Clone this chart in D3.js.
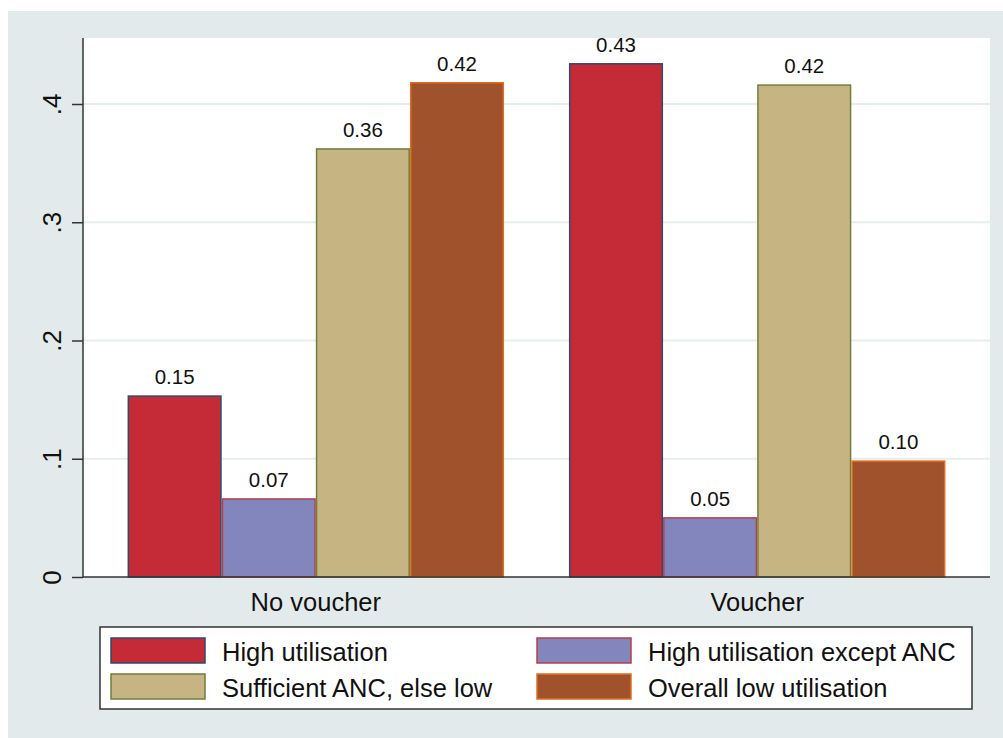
<!DOCTYPE html>
<html>
<head>
<meta charset="utf-8">
<script src="https://cdn.jsdelivr.net/npm/d3@7"></script>
<style>
html,body{margin:0;padding:0;background:#fff;}
svg text{font-family:"Liberation Sans",Arial,sans-serif;fill:#111;}
</style>
</head>
<body>
<svg id="chart" width="1003" height="738"></svg>
<script>
const categories = ["No voucher", "Voucher"];
const seriesNames = ["High utilisation", "High utilisation except ANC", "Sufficient ANC, else low", "Overall low utilisation"];
const noVoucher = [0.153, 0.066, 0.362, 0.418];
const voucher = [0.434, 0.050, 0.416, 0.098];
const yTicks = [0, 0.1, 0.2, 0.3, 0.4];
const yTickLabels = ["0", ".1", ".2", ".3", ".4"];
const fills = ["#c42b37", "#8286bd", "#c6b582", "#a0522d"];
const strokes = ["#2f4a6e", "#b3404a", "#6f7f3a", "#e36d1e"];

const values = [noVoucher, voucher];
const svg = d3.select("#chart");

// outer background
svg.append("rect").attr("x", 8).attr("y", 11).attr("width", 995).attr("height", 727).attr("fill", "#e3eaeb");

const plot = {left: 83, right: 990, top: 38, bottom: 577};
svg.append("rect").attr("x", plot.left).attr("y", plot.top)
  .attr("width", plot.right - plot.left).attr("height", plot.bottom - plot.top).attr("fill", "#fff");

const y = d3.scaleLinear().domain([0, 0.4]).range([plot.bottom, 104]);
const x0 = d3.scaleBand().domain(categories).range([plot.left, plot.right]).paddingInner(0.147).paddingOuter(0.101);
const x1 = d3.scaleBand().domain(seriesNames).range([0, x0.bandwidth()]).padding(0);

// gridlines
svg.append("g").selectAll("line").data(yTicks.filter(d => d > 0)).join("line")
  .attr("x1", plot.left).attr("x2", plot.right)
  .attr("y1", d => y(d)).attr("y2", d => y(d))
  .attr("stroke", "#e6eded").attr("stroke-width", 2);

// y axis
const yAxis = d3.axisLeft(y).tickValues(yTicks).tickSize(11).tickFormat((d, i) => yTickLabels[i]);
const ga = svg.append("g").attr("transform", `translate(${plot.left},0)`).call(yAxis);
ga.select(".domain").attr("d", `M0,${plot.top}V${plot.bottom}`).attr("stroke", "#333").attr("stroke-width", 1.5);
ga.selectAll(".tick line").attr("stroke", "#333").attr("stroke-width", 1.5);
ga.selectAll(".tick text")
  .attr("x", null).attr("dy", null)
  .attr("transform", "translate(-22,0) rotate(-90)")
  .attr("text-anchor", "middle")
  .attr("font-size", 26);

// bars
const groups = svg.append("g").selectAll("g").data(categories).join("g")
  .attr("transform", d => `translate(${x0(d)},0)`);

groups.each(function(cat, ci) {
  const g = d3.select(this);
  const data = seriesNames.map((s, si) => ({s, si, v: values[ci][si]}));
  g.selectAll("rect").data(data).join("rect")
    .attr("x", d => x1(d.s) + 0.75)
    .attr("width", x1.bandwidth() - 1.5)
    .attr("y", d => y(d.v))
    .attr("height", d => y(0) - y(d.v))
    .attr("fill", d => fills[d.si])
    .attr("stroke", d => strokes[d.si])
    .attr("stroke-width", 1.5);
  g.selectAll("text").data(data).join("text")
    .attr("x", d => x1(d.s) + x1.bandwidth() / 2)
    .attr("y", d => y(d.v) - 12)
    .attr("text-anchor", "middle")
    .attr("font-size", 20.5)
    .text(d => d.v.toFixed(2));
});

// x axis line
svg.append("line").attr("x1", plot.left).attr("x2", plot.right)
  .attr("y1", plot.bottom).attr("y2", plot.bottom)
  .attr("stroke", "#333").attr("stroke-width", 1.5);

// category labels
svg.append("g").selectAll("text").data(categories).join("text")
  .attr("x", d => x0(d) + x0.bandwidth() / 2)
  .attr("y", 611)
  .attr("text-anchor", "middle")
  .attr("font-size", 25.5)
  .text(d => d);

// legend
svg.append("rect").attr("x", 100).attr("y", 627).attr("width", 872).attr("height", 82)
  .attr("fill", "#fff").attr("stroke", "#333").attr("stroke-width", 1.5);
const legX = [111, 537];
const legY = [638, 674];
const leg = svg.append("g").selectAll("g").data(seriesNames).join("g")
  .attr("transform", (d, i) => `translate(${legX[i % 2]},${legY[Math.floor(i / 2)]})`);
leg.append("rect").attr("width", 94).attr("height", 25)
  .attr("fill", (d, i) => fills[i]).attr("stroke", (d, i) => strokes[i]).attr("stroke-width", 1.5);
leg.append("text").attr("x", 111).attr("y", 23).attr("font-size", 25.5).text(d => d);
</script>
</body>
</html>
